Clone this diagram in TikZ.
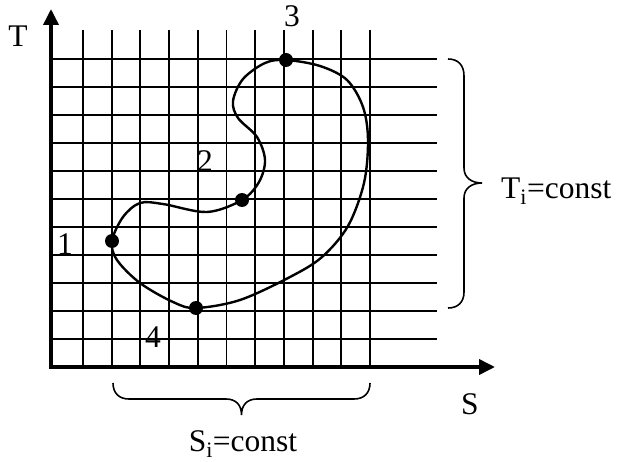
\documentclass[tikz,border=0pt]{standalone}
\usepackage{fontspec}
\setmainfont{Liberation Serif}
\usetikzlibrary{arrows.meta}
\begin{document}
\begin{tikzpicture}[x=1pt,y=-1pt,
  gridline/.style={line width=1.9pt},
  axis/.style={line width=3.6pt,line join=miter,{Triangle[length=16pt,width=15pt]}-{Triangle[length=16pt,width=15pt]}},
  curve/.style={line width=2.4pt},
  dot/.style={circle,fill=black,inner sep=0pt,minimum size=14pt},
  lbl/.style={font=\fontsize{31.5}{38}\selectfont,inner sep=0pt},
  brace/.style={line width=1.6pt}]
\useasboundingbox (0,0) rectangle (617,462);
% grid
\foreach \i in {0,...,10} \draw[gridline] ({83+28.7*\i},30) -- ({83+28.7*\i},367);
\foreach \j in {0,...,10} \draw[gridline] (51,{59+28*\j}) -- (437,{59+28*\j});
% axes
\coordinate (O) at (51,367);
\coordinate (ytip) at (51,9);
\coordinate (xtip) at (495,367);
\draw[axis] (ytip) -- (O) -- (xtip);
% curve
\draw[curve] plot[smooth cycle, tension=0.55] coordinates {
 (286,60) (320,66) (347,80) (363,107) (368,140) (364,183) (348,226)
 (322,257) (290,277) (240,300) (196,308) (173,302) (140,283) (117,260)
 (112,241) (123,217) (140,203) (163,204) (207,212) (242,200) (259,182)
 (265,160) (257,137) (238,118) (233,101) (243,79) (265,63)};
% points
\node[dot] (p3) at (286,60) {};
\node[dot] (p2) at (242,200) {};
\node[dot] (p1) at (112,241) {};
\node[dot] (p4) at (196,308) {};
% labels
\node[lbl] (l3) at (292,16) {3};
\node[lbl] (l2) at (205,161) {2};
\node[lbl] (l1) at (65,244) {1};
\node[lbl] (l4) at (153,337) {4};
\node[lbl] (lT) at (18,36) {T};
\node[lbl] (lS) at (470,404) {S};
\node[lbl,anchor=west] (lTi) at (501,191) {T\textsubscript{i}=const};
\node[lbl] (lSi) at (243,444) {S\textsubscript{i}=const};
% right brace
\coordinate (rb1) at (448,59);
\coordinate (rbt) at (482,183);
\coordinate (rb2) at (448,308);
\draw[brace] (rb1) .. controls (458,59) and (464,65) .. (464,76) -- (464,168)
  .. controls (464,178) and (472,183) .. (rbt)
  .. controls (472,183) and (464,188) .. (464,198) -- (464,292)
  .. controls (464,302) and (458,308) .. (rb2);
% bottom brace
\coordinate (bb1) at (113,383);
\coordinate (bbt) at (241.5,415);
\coordinate (bb2) at (370,383);
\draw[brace] (bb1) .. controls (113,393) and (119,399) .. (129,399) -- (226,399)
  .. controls (236,399) and (241.5,405) .. (bbt)
  .. controls (241.5,405) and (247,399) .. (257,399) -- (354,399)
  .. controls (364,399) and (370,393) .. (bb2);
\end{tikzpicture}
\end{document}
